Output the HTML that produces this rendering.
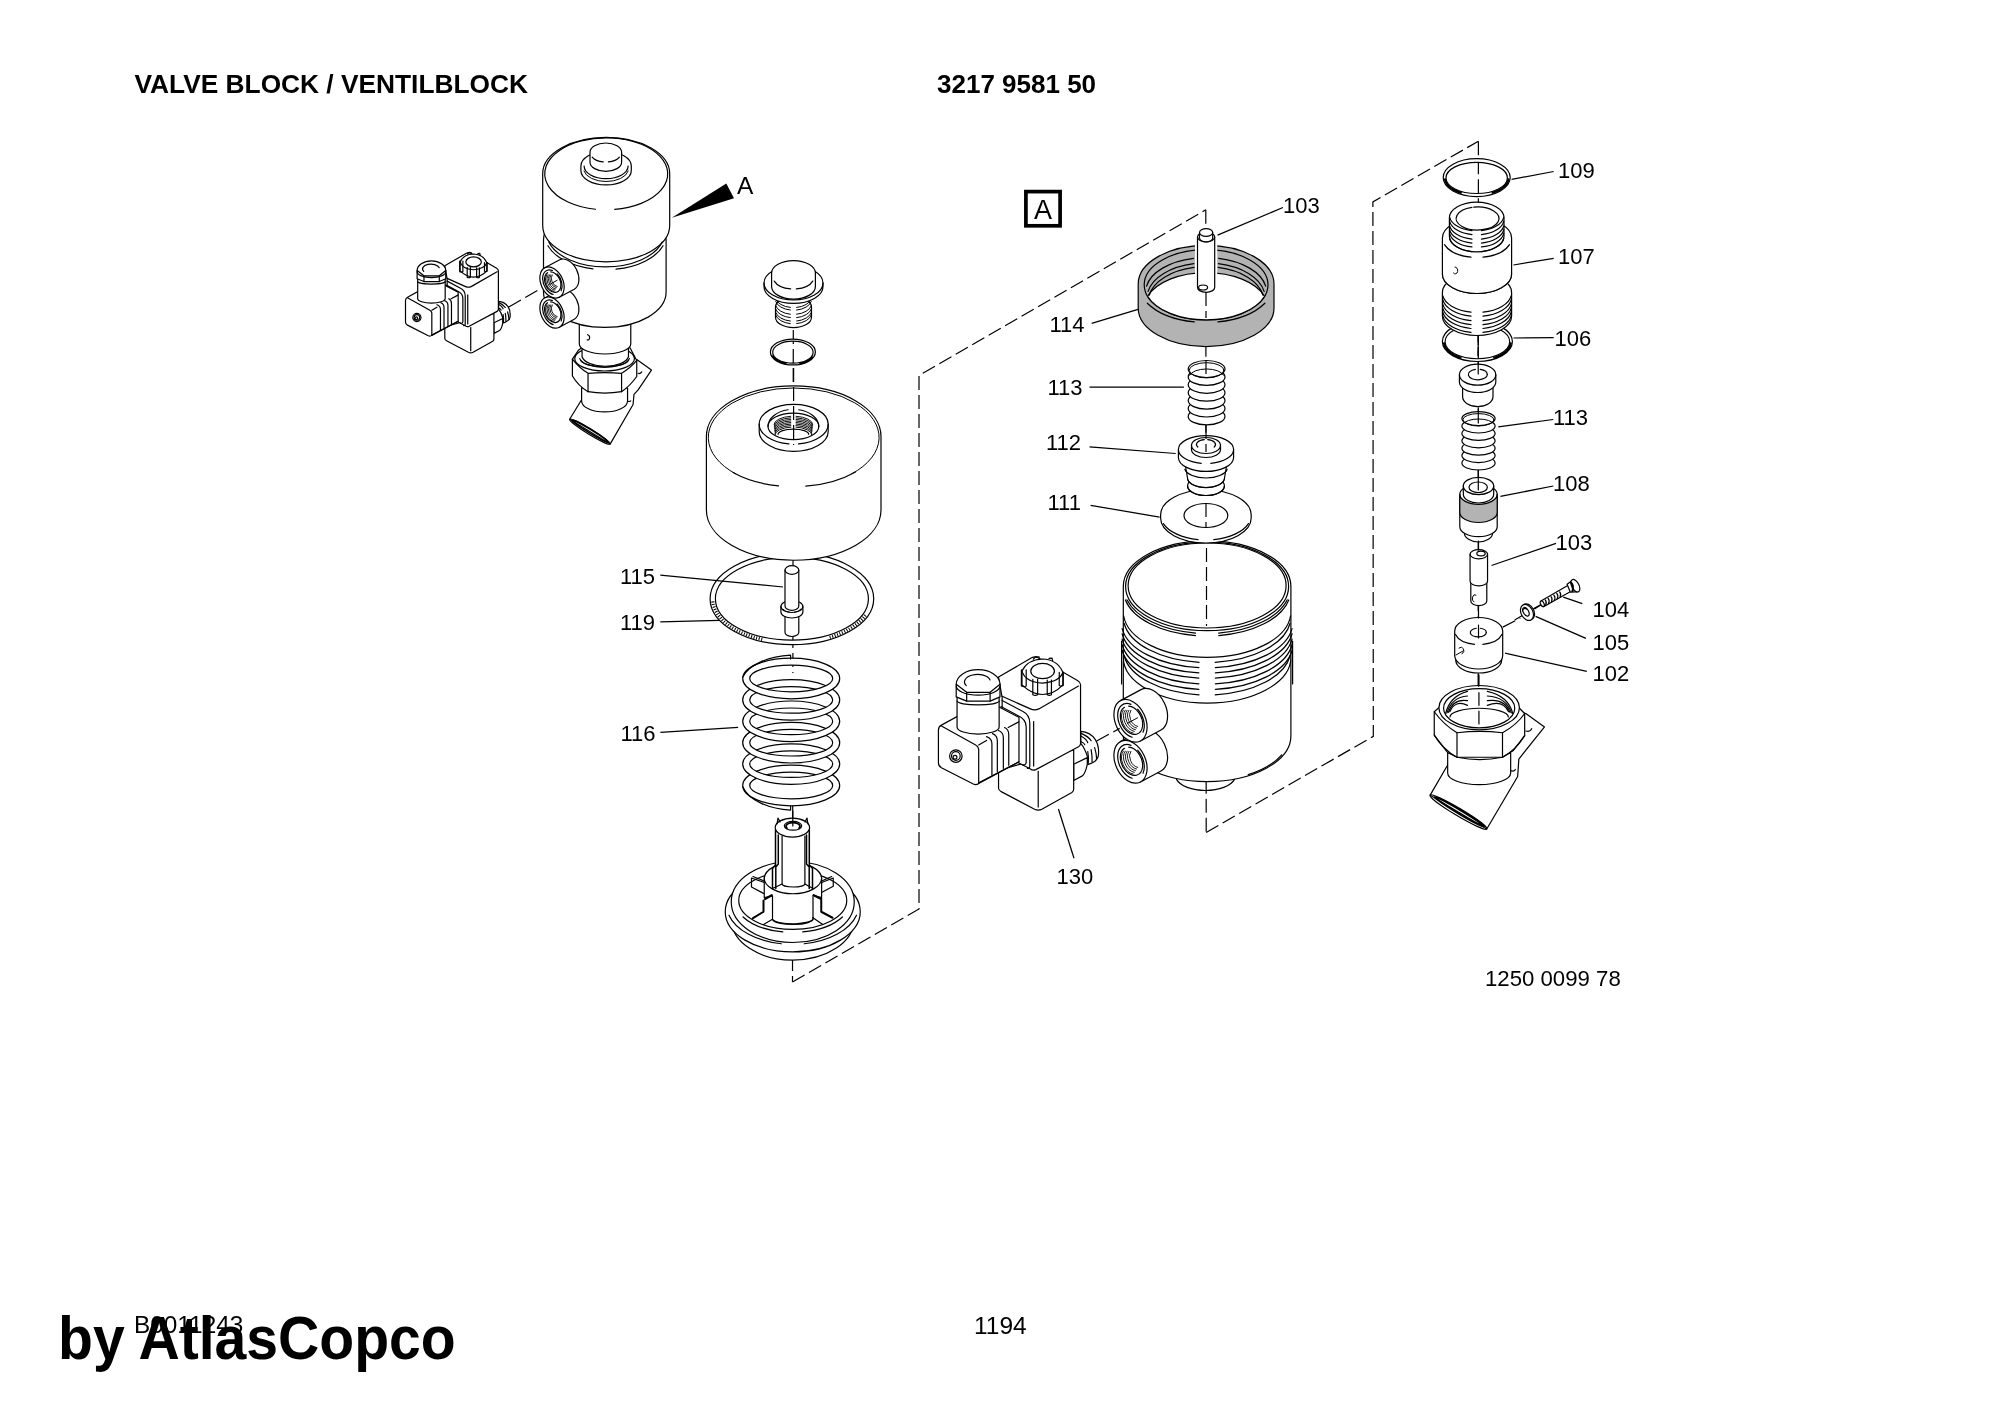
<!DOCTYPE html>
<html><head><meta charset="utf-8">
<style>
html,body{margin:0;padding:0;background:#fff;}
body{width:2000px;height:1414px;overflow:hidden;position:relative;}
svg{position:absolute;left:0;top:0;will-change:transform;}
text{font-family:"Liberation Sans",sans-serif;fill:#000;}
.b{font-weight:bold;}
.s{fill:none;stroke:#000;stroke-width:1.2;stroke-linejoin:round;stroke-linecap:round;}
.t{fill:none;stroke:#000;stroke-width:1.0;stroke-linecap:round;}
.w{fill:#fff;stroke:#000;stroke-width:1.2;stroke-linejoin:round;}
.wn{fill:#fff;stroke:none;}
.g{fill:#b3b3b3;stroke:#000;stroke-width:1.2;stroke-linejoin:round;}
.gn{fill:#b3b3b3;stroke:none;}
.d{fill:none;stroke:#000;stroke-width:1.2;stroke-dasharray:14 5;}
.l{fill:none;stroke:#000;stroke-width:1.25;}
.lab{font-size:22px;}
.ns{vector-effect:non-scaling-stroke;}
</style></head><body>
<svg width="2000" height="1414" viewBox="0 0 2000 1414">
<path class="d" d="M792.5 982 L919 909 L919 375.5 L1205.8 209.8"/>
<path class="d" d="M1206.2 832.4 L1373.3 736.3 L1372.9 201.9 L1478.4 141.2"/>
<path class="d" d="M793.3 330 L792.5 982"/>
<path class="d" d="M1205.8 209.8 L1206.2 832.4"/>
<path class="d" d="M1478.4 141.2 L1478.2 690"/>
<g transform="translate(930 650) scale(0.12024)">
<path class="w ns" d="M1195 950 L1308 895 L1308 953 Q1290 1030 1267 1047 L1195 1085 Z"/>
<path class="w ns" d="M1254 677 Q1330 680 1375 745 Q1410 800 1400 880 Q1390 930 1312 953 L1312 895 Q1290 820 1254 776 Z"/>
<path class="s ns" d="M1258 693 Q1320 720 1340 755 M1258 718 Q1300 740 1312 771 M1258 763 Q1285 775 1287 788"/>
<path class="s ns" d="M1312 845 Q1322 900 1316 940 M1340 829 Q1350 880 1348 932 M1369 812 Q1385 860 1386 907"/>
<path class="w ns" d="M570 1000 L570 1150 Q572 1168 592 1178 L870 1325 Q900 1340 930 1325 L1180 1185 Q1195 1175 1195 1155 L1195 830 Z"/>
<path class="s ns" d="M900 1010 L900 1305"/>
<path class="w ns" d="M600 395 L570 225 L845 65 Q870 52 895 62 L1230 255 Q1252 268 1252 290 L1252 780 Q1250 795 1235 805 L880 995 Q855 1005 835 990 L760 950 L600 870 Z"/>
<path class="s ns" d="M600 385 L835 490 Q870 505 905 490 L1235 300"/>
<path class="s ns" d="M862 595 L862 965"/>
<path class="s ns" d="M590 470 L730 545 Q800 575 800 640 L800 930 Q800 960 770 955"/>
<path class="s ns" d="M600 420 L770 510 Q830 540 830 610 L830 960 Q832 985 810 985"/>
<path class="w ns" d="M95 625 L470 420 L740 560 L740 930 L405 1110 Q385 1125 360 1115 L95 980 Q70 965 70 940 L70 665 Q72 635 95 625 Z"/>
<path class="s ns" d="M95 632 L380 790 Q400 800 405 825 L405 1108"/>
<path class="s ns" d="M405 790 L470 752 M650 645 L738 598"/>
<path class="s ns" d="M405 1105 L740 930"/>
<path class="s ns" d="M470 720 Q515 735 515 780 L515 1040"/>
<path class="s ns" d="M520 695 Q560 710 560 755 L560 1013"/>
<path class="s ns" d="M570 670 Q610 685 610 730 L610 986"/>
<path class="s ns" d="M620 645 Q655 660 655 705 L655 959"/>
<circle class="s ns" cx="215" cy="882" r="52"/>
<circle class="s ns" cx="215" cy="882" r="36"/>
<circle class="s ns" cx="208" cy="892" r="16"/>
<path class="w ns" d="M225 390 L225 640 A175 60 0 0 0 575 640 L575 390 Z"/>
<path class="s ns" d="M225 425 A175 32 0 0 0 575 425"/>
<path class="w ns" d="M218 285 L218 390 L305 425 L500 425 L582 390 L582 285 A182 122 0 0 0 218 285 Z"/>
<path class="s ns" d="M218 285 L305 352 L500 352 L582 285 M305 352 L305 425 M500 352 L500 425"/>
<path class="s ns" d="M218 300 A182 75 0 0 0 582 300"/>
<path class="s ns" d="M301.47 296 A108 62 0 1 1 499.32 248.95"/>
<path class="w ns" d="M765 175 L765 290 Q850 370 935 370 Q1030 370 1105 290 L1105 185 Q1060 80 935 75 Q810 80 765 175 Z"/>
<path class="s ns" d="M838 175 A97 62 0 0 1 1035 175 A97 62 0 0 1 838 175"/>
<path class="s ns" d="M765 175 Q790 265 935 275 Q1080 265 1105 185"/>
<path class="s ns" d="M760 165 L760 300 Q780 310 800 300 L800 165"/>
<path class="s ns" d="M855 245 L855 372 Q875 382 895 372 L895 245"/>
<path class="s ns" d="M975 250 L975 372 Q992 382 1010 372 L1010 250"/>
<path class="s ns" d="M1075 185 L1075 295 Q1091 305 1108 295 L1108 185"/>
<path class="s ns" d="M860 75 L880 55 L910 60 M990 70 L1015 68 L1020 90"/>
</g>
<g transform="translate(404.9 252.7) scale(0.6536) translate(-937.5 -657) translate(930 650) scale(0.12024)">
<path class="w ns" d="M1195 950 L1308 895 L1308 953 Q1290 1030 1267 1047 L1195 1085 Z"/>
<path class="w ns" d="M1254 677 Q1330 680 1375 745 Q1410 800 1400 880 Q1390 930 1312 953 L1312 895 Q1290 820 1254 776 Z"/>
<path class="s ns" d="M1258 693 Q1320 720 1340 755 M1258 718 Q1300 740 1312 771 M1258 763 Q1285 775 1287 788"/>
<path class="s ns" d="M1312 845 Q1322 900 1316 940 M1340 829 Q1350 880 1348 932 M1369 812 Q1385 860 1386 907"/>
<path class="w ns" d="M570 1000 L570 1150 Q572 1168 592 1178 L870 1325 Q900 1340 930 1325 L1180 1185 Q1195 1175 1195 1155 L1195 830 Z"/>
<path class="s ns" d="M900 1010 L900 1305"/>
<path class="w ns" d="M600 395 L570 225 L845 65 Q870 52 895 62 L1230 255 Q1252 268 1252 290 L1252 780 Q1250 795 1235 805 L880 995 Q855 1005 835 990 L760 950 L600 870 Z"/>
<path class="s ns" d="M600 385 L835 490 Q870 505 905 490 L1235 300"/>
<path class="s ns" d="M862 595 L862 965"/>
<path class="s ns" d="M590 470 L730 545 Q800 575 800 640 L800 930 Q800 960 770 955"/>
<path class="s ns" d="M600 420 L770 510 Q830 540 830 610 L830 960 Q832 985 810 985"/>
<path class="w ns" d="M95 625 L470 420 L740 560 L740 930 L405 1110 Q385 1125 360 1115 L95 980 Q70 965 70 940 L70 665 Q72 635 95 625 Z"/>
<path class="s ns" d="M95 632 L380 790 Q400 800 405 825 L405 1108"/>
<path class="s ns" d="M405 790 L470 752 M650 645 L738 598"/>
<path class="s ns" d="M405 1105 L740 930"/>
<path class="s ns" d="M470 720 Q515 735 515 780 L515 1040"/>
<path class="s ns" d="M520 695 Q560 710 560 755 L560 1013"/>
<path class="s ns" d="M570 670 Q610 685 610 730 L610 986"/>
<path class="s ns" d="M620 645 Q655 660 655 705 L655 959"/>
<circle class="s ns" cx="215" cy="882" r="52"/>
<circle class="s ns" cx="215" cy="882" r="36"/>
<circle class="s ns" cx="208" cy="892" r="16"/>
<path class="w ns" d="M225 390 L225 640 A175 60 0 0 0 575 640 L575 390 Z"/>
<path class="s ns" d="M225 425 A175 32 0 0 0 575 425"/>
<path class="w ns" d="M218 285 L218 390 L305 425 L500 425 L582 390 L582 285 A182 122 0 0 0 218 285 Z"/>
<path class="s ns" d="M218 285 L305 352 L500 352 L582 285 M305 352 L305 425 M500 352 L500 425"/>
<path class="s ns" d="M218 300 A182 75 0 0 0 582 300"/>
<path class="s ns" d="M301.47 296 A108 62 0 1 1 499.32 248.95"/>
<path class="w ns" d="M765 175 L765 290 Q850 370 935 370 Q1030 370 1105 290 L1105 185 Q1060 80 935 75 Q810 80 765 175 Z"/>
<path class="s ns" d="M838 175 A97 62 0 0 1 1035 175 A97 62 0 0 1 838 175"/>
<path class="s ns" d="M765 175 Q790 265 935 275 Q1080 265 1105 185"/>
<path class="s ns" d="M760 165 L760 300 Q780 310 800 300 L800 165"/>
<path class="s ns" d="M855 245 L855 372 Q875 382 895 372 L895 245"/>
<path class="s ns" d="M975 250 L975 372 Q992 382 1010 372 L1010 250"/>
<path class="s ns" d="M1075 185 L1075 295 Q1091 305 1108 295 L1108 185"/>
<path class="s ns" d="M860 75 L880 55 L910 60 M990 70 L1015 68 L1020 90"/>
</g>
<path class="w" d="M775.5 307 A18 10.4 0 0 1 811.5 307 L811.5 317.2 A18 10.4 0 0 1 775.5 317.2 Z"/>
<path class="t" d="M811.23 299.01 A18 10.4 0 0 1 796.63 307.44"/>
<path class="t" d="M790.37 307.44 A18 10.4 0 0 1 775.77 299.01"/>
<path class="t" d="M811.23 301.61 A18 10.4 0 0 1 796.63 310.04"/>
<path class="t" d="M790.37 310.04 A18 10.4 0 0 1 775.77 301.61"/>
<path class="t" d="M811.23 305.81 A18 10.4 0 0 1 796.63 314.24"/>
<path class="t" d="M790.37 314.24 A18 10.4 0 0 1 775.77 305.81"/>
<path class="t" d="M811.23 309.21 A18 10.4 0 0 1 796.63 317.64"/>
<path class="t" d="M790.37 317.64 A18 10.4 0 0 1 775.77 309.21"/>
<path class="t" d="M811.23 312.61 A18 10.4 0 0 1 796.63 321.04"/>
<path class="t" d="M790.37 321.04 A18 10.4 0 0 1 775.77 312.61"/>
<path class="t" d="M811.23 315.21 A18 10.4 0 0 1 796.63 323.64"/>
<path class="t" d="M790.37 323.64 A18 10.4 0 0 1 775.77 315.21"/>
<path class="w" d="M764 283 A29.5 17 0 0 1 823 283 L823 286.4 A29.5 17 0 0 1 764 286.4 Z"/>
<path class="s" d="M823 283 A29.5 17 0 0 1 764 283"/>
<path class="w" d="M771.6 273.3 A21.9 12.7 0 0 1 815.4 273.3 L815.4 286.4 A21.9 12.7 0 0 1 771.6 286.4 Z"/>
<path class="s" d="M812.76 281.1 A20.5 12 0 0 1 796.35 288.88"/>
<path class="s" d="M790.65 288.88 A20.5 12 0 0 1 774.24 281.1"/>
<path d="M815.4 352 A22.5 12.95 0 0 1 770.4 352 A22.5 12.95 0 0 1 815.4 352 Z M813.1 352.2 A20.2 11 0 0 1 772.7 352.2 A20.2 11 0 0 1 813.1 352.2 Z" fill="#fff" fill-rule="evenodd" stroke="#000" stroke-width="1.2"/>
<path class="s" d="M785.58 363.48 A21.4 12 0 0 1 772.79 356.3" style="stroke-width:2"/>
<path class="s" d="M812.29 357.27 A21.4 12 0 0 1 800.22 363.48" style="stroke-width:2"/>
<path d="M873.7 598.7 A81.8 46 0 0 1 710.1 598.7 A81.8 46 0 0 1 873.7 598.7 Z M868.4 598.7 A76.5 41.4 0 0 1 715.4 598.7 A76.5 41.4 0 0 1 868.4 598.7 Z" fill="#fff" fill-rule="evenodd" stroke="#000" stroke-width="1.2"/>
<path d="M762.23 639.42 A79.2 43.7 0 0 1 712.75 600.43" fill="none" stroke="#000" stroke-width="3.2" stroke-dasharray="1 1.6"/>
<path d="M865.33 615.27 A79.2 43.7 0 0 1 829.08 637.48" fill="none" stroke="#000" stroke-width="3.2" stroke-dasharray="1 1.6"/>
<path class="w" d="M706.4 436.3 A87.3 50.4 0 0 1 881 436.3 L881 509.9 A87.3 50.4 0 0 1 706.4 509.9 Z"/>
<path class="t" d="M735.39 473.7 A85.5 49.5 0 1 1 852.01 473.7"/>
<path class="s" d="M855.43 471.94 A87.3 50.4 0 0 1 805.85 486.21"/>
<path class="s" d="M778.54 485.93 A87.3 50.4 0 0 1 733.06 472.55"/>
<path class="w" d="M759.2 424.2 A34.5 19.9 0 0 1 828.2 424.2 L828.2 431.5 A34.5 19.9 0 0 1 759.2 431.5 Z"/>
<path class="s" d="M828.2 424.2 A34.5 19.9 0 0 1 798.5 443.91"/>
<path class="s" d="M788.9 443.91 A34.5 19.9 0 0 1 759.2 424.2"/>
<ellipse class="w" cx="793.4" cy="426.4" rx="25.4" ry="13.2"/>
<path class="s" d="M768 426.4 A25.4 17 0 0 1 788.12 409.77"/>
<path class="s" d="M798.68 409.77 A25.4 17 0 0 1 818.8 426.4"/>
<path class="s" style="stroke-width:0.95" d="M774 424.5 A19.4 8.3 0 0 1 790.7 416.28"/>
<path class="s" style="stroke-width:0.95" d="M796.1 416.28 A19.4 8.3 0 0 1 812.8 424.5"/>
<path class="s" style="stroke-width:0.95" d="M774.15 425.95 A19.25 8.2 0 0 1 790.72 417.83"/>
<path class="s" style="stroke-width:0.95" d="M796.08 417.83 A19.25 8.2 0 0 1 812.65 425.95"/>
<path class="s" style="stroke-width:0.95" d="M774.3 427.4 A19.1 8.1 0 0 1 790.74 419.38"/>
<path class="s" style="stroke-width:0.95" d="M796.06 419.38 A19.1 8.1 0 0 1 812.5 427.4"/>
<path class="s" style="stroke-width:0.95" d="M774.45 428.85 A18.95 8 0 0 1 790.76 420.93"/>
<path class="s" style="stroke-width:0.95" d="M796.04 420.93 A18.95 8 0 0 1 812.35 428.85"/>
<path class="s" style="stroke-width:0.95" d="M774.6 430.3 A18.8 7.9 0 0 1 790.78 422.48"/>
<path class="s" style="stroke-width:0.95" d="M796.02 422.48 A18.8 7.9 0 0 1 812.2 430.3"/>
<path class="s" style="stroke-width:0.95" d="M774.75 431.75 A18.65 7.8 0 0 1 790.8 424.03"/>
<path class="s" style="stroke-width:0.95" d="M796 424.03 A18.65 7.8 0 0 1 812.05 431.75"/>
<path class="s" style="stroke-width:0.95" d="M774.9 433.2 A18.5 7.7 0 0 1 790.83 425.57"/>
<path class="s" style="stroke-width:0.95" d="M795.97 425.57 A18.5 7.7 0 0 1 811.9 433.2"/>
<path class="s" style="stroke-width:0.95" d="M775.05 434.65 A18.35 7.6 0 0 1 790.85 427.12"/>
<path class="s" style="stroke-width:0.95" d="M795.95 427.12 A18.35 7.6 0 0 1 811.75 434.65"/>
<path class="s" d="M778.1 434.3 A15.3 5.2 0 0 1 808.7 434.3"/>
<path class="d" d="M793.6 368 L793.6 445"/>
<path class="w" d="M785 612 A6.9 4 0 0 1 798.8 612 L798.8 632.5 A6.9 4 0 0 1 785 632.5 Z"/>
<path class="w" d="M780.9 606.5 A11 6 0 0 1 802.9 606.5 L802.9 612 A11 6 0 0 1 780.9 612 Z"/>
<path class="s" d="M802.9 606.5 A11 6 0 0 1 780.9 606.5"/>
<path class="t" d="M800.83 609.21 A9.5 5 0 0 1 794.36 612.33"/>
<path class="t" d="M789.44 612.33 A9.5 5 0 0 1 782.97 609.21"/>
<path class="w" d="M785 570 A6.9 4.4 0 0 1 798.8 570 L798.8 606 A6.9 4.4 0 0 1 785 606 Z"/>
<path class="s" d="M798.8 570 A6.9 4.4 0 0 1 785 570"/>
<path class="wn" d="M746.2 690 A45 17 0 0 1 836.2 690 L836.2 785.9 A45 17 0 0 1 746.2 785.9 Z"/>
<path d="M839.7 785.5 A48.5 20.3 0 0 1 742.7 785.5 A48.5 20.3 0 0 1 839.7 785.5 Z M832.7 785.5 A41.5 13.3 0 0 1 749.7 785.5 A41.5 13.3 0 0 1 832.7 785.5 Z" fill="#fff" fill-rule="evenodd" stroke="#000" stroke-width="1.2"/>
<path d="M839.7 764.1 A48.5 20.3 0 0 1 742.7 764.1 A48.5 20.3 0 0 1 839.7 764.1 Z M832.7 764.1 A41.5 13.3 0 0 1 749.7 764.1 A41.5 13.3 0 0 1 832.7 764.1 Z" fill="#fff" fill-rule="evenodd" stroke="#000" stroke-width="1.2"/>
<path d="M839.7 742.7 A48.5 20.3 0 0 1 742.7 742.7 A48.5 20.3 0 0 1 839.7 742.7 Z M832.7 742.7 A41.5 13.3 0 0 1 749.7 742.7 A41.5 13.3 0 0 1 832.7 742.7 Z" fill="#fff" fill-rule="evenodd" stroke="#000" stroke-width="1.2"/>
<path d="M839.7 721.3 A48.5 20.3 0 0 1 742.7 721.3 A48.5 20.3 0 0 1 839.7 721.3 Z M832.7 721.3 A41.5 13.3 0 0 1 749.7 721.3 A41.5 13.3 0 0 1 832.7 721.3 Z" fill="#fff" fill-rule="evenodd" stroke="#000" stroke-width="1.2"/>
<path d="M839.7 699.9 A48.5 20.3 0 0 1 742.7 699.9 A48.5 20.3 0 0 1 839.7 699.9 Z M832.7 699.9 A41.5 13.3 0 0 1 749.7 699.9 A41.5 13.3 0 0 1 832.7 699.9 Z" fill="#fff" fill-rule="evenodd" stroke="#000" stroke-width="1.2"/>
<path d="M839.7 678.5 A48.5 20.3 0 0 1 742.7 678.5 A48.5 20.3 0 0 1 839.7 678.5 Z M832.7 678.5 A41.5 13.3 0 0 1 749.7 678.5 A41.5 13.3 0 0 1 832.7 678.5 Z" fill="#fff" fill-rule="evenodd" stroke="#000" stroke-width="1.2"/>
<path class="s" d="M742.9 677 C748 665 768 656.5 790.6 655.2 L790.6 659"/>
<path class="s" d="M742.9 787 C749 801 770 809 790.6 810.2 L790.6 806.2"/>
<g transform="translate(720 860) scale(0.075)">
<ellipse class="w ns" cx="970" cy="800" rx="815" ry="535"/>
<ellipse class="w ns" cx="970" cy="690" rx="900" ry="535"/>
<path class="s ns" d="M817.19 1117.02 A880 525 0 0 1 119.99 735.88"/>
<path class="s ns" d="M1820.01 735.88 A880 525 0 0 1 1122.81 1117.02"/>
<ellipse class="w ns" cx="970" cy="560" rx="820" ry="540"/>
<path class="s ns" d="M837.16 958.77 A765 410 0 0 1 307.49 760"/>
<path class="s ns" d="M1632.51 760 A765 410 0 0 1 1102.84 958.77"/>
<ellipse class="w ns" cx="970" cy="540" rx="720" ry="385"/>
<path class="s ns" d="M420 240 L590 300 M440 220 L590 280 M420 240 L420 360 L580 445"/>
<path class="s ns" d="M1510 240 L1355 300 M1490 220 L1355 280 M1510 240 L1510 350 L1360 430"/>
<path class="w ns" d="M590 240 A383 215 0 0 1 1355 240 L1355 500 L1240 470 L1240 780 A270 75 0 0 1 700 790 L700 480 L590 500 Z"/>
<path class="s ns" d="M1355 240 A383 210 0 0 1 589 240"/>
<path class="s ns" d="M700 790 A270 70 0 0 0 1240 770"/>
<path class="s ns" d="M600 520 L690 470" style="stroke-width:2.2"/>
<path class="s ns" d="M1250 470 L1350 520" style="stroke-width:2.2"/>
<path class="s ns" d="M580 540 L580 690 L440 775" style="stroke-width:2.0"/>
<path class="s ns" d="M1350 540 L1350 690 L1500 770" style="stroke-width:2.0"/>
<path class="s ns" d="M580 860 L700 790 M1370 860 L1240 770"/>
</g>
<path class="wn" d="M775.2 827.6 A17.2 9.5 0 0 1 809.6 827.6 L809.6 866 L813 869 L813 888.5 L772.5 888.5 L772.5 869 L775.2 866 Z"/>
<path class="s" d="M809.6 827.6 A17.2 9.5 0 0 1 775.2 827.6 A17.2 9.5 0 0 1 809.6 827.6"/>
<path class="s" d="M775.5 830 L775.5 865 L772.5 868.5 L772.5 888.5 M778.3 835 L778.3 864 L775.8 867 L775.8 888.5" style="stroke-width:1.5"/>
<path class="s" d="M809.3 830 L809.3 865 L812.5 868.5 L812.5 888.5 M806.5 835 L806.5 864 L809.2 867 L809.2 888.5" style="stroke-width:1.5"/>
<path class="s" d="M782.1 836 L782.1 884"/>
<path class="s" d="M804.9 836 L804.9 884"/>
<path class="s" d="M782.1 884 A11.4 3 0 0 0 804.9 884 M772.5 888.5 L782.1 884 M804.9 884 L813 888.5"/>
<ellipse class="s" cx="793" cy="825.8" rx="8.7" ry="4.4"/>
<path class="s" style="stroke-width:1.8" d="M786.94 828.1 A7 3.6 0 1 1 799.06 828.1"/>
<path class="s" d="M792.8 811 L792.8 826"/>
<path class="s" d="M777 824 L778 818 L780 822 M808 824 L807 818 L805 822"/>
<path class="w" d="M1123.3 662 A83.8 45.6 0 0 1 1290.9 662 L1290.9 736 A83.8 45.6 0 0 1 1123.3 736 Z"/>
<path class="s" d="M1234.48 779.38 A30 15 0 0 1 1176.52 779.38"/>
<path class="s" d="M1281.69 754.85 A82.3 44.6 0 0 1 1248.25 774.62"/>
<path class="s" d="M1121.6 641 L1121.6 684 M1292.6 641 L1292.6 684"/>
<path class="w" d="M1123.3 586.4 A83.8 45.6 0 0 1 1290.9 586.4 L1290.9 657.5 A83.8 45.6 0 0 1 1123.3 657.5 Z"/>
<path class="s" d="M1290.08 623.25 A83.8 45.6 0 0 1 1215.13 662.29"/>
<path class="s" d="M1199.07 662.29 A83.8 45.6 0 0 1 1124.12 623.25"/>
<path class="s" d="M1292.07 628.55 A85.8 45.6 0 0 1 1215.32 667.59"/>
<path class="s" d="M1198.88 667.59 A85.8 45.6 0 0 1 1122.13 628.55"/>
<path class="s" d="M1292.07 633.75 A85.8 45.6 0 0 1 1215.32 672.79"/>
<path class="s" d="M1198.88 672.79 A85.8 45.6 0 0 1 1122.13 633.75"/>
<path class="s" d="M1292.07 639.05 A85.8 45.6 0 0 1 1215.32 678.09"/>
<path class="s" d="M1198.88 678.09 A85.8 45.6 0 0 1 1122.13 639.05"/>
<path class="s" d="M1292.07 644.75 A85.8 45.6 0 0 1 1215.32 683.79"/>
<path class="s" d="M1198.88 683.79 A85.8 45.6 0 0 1 1122.13 644.75"/>
<path class="s" d="M1292.07 650.25 A85.8 45.6 0 0 1 1215.32 689.29"/>
<path class="s" d="M1198.88 689.29 A85.8 45.6 0 0 1 1122.13 650.25"/>
<path class="s" d="M1290.08 655.75 A83.8 45.6 0 0 1 1215.13 694.79"/>
<path class="s" d="M1199.07 694.79 A83.8 45.6 0 0 1 1124.12 655.75"/>
<path class="s" d="M1290.58 615.77 A83.8 45.6 0 0 1 1123.62 615.77"/>
<ellipse class="s" cx="1207.1" cy="585.5" rx="79" ry="42.5"/>
<ellipse class="s" cx="1207.1" cy="586.4" rx="81.5" ry="44.2"/>
<path class="s" d="M1287.27 599.78 A83 45.5 0 0 1 1218.65 633.06"/>
<path class="s" d="M1195.55 633.06 A83 45.5 0 0 1 1126.93 599.78"/>
<path class="s" d="M1288.78 599.96 A83.5 45.5 0 0 1 1218.72 635.56"/>
<path class="s" d="M1195.48 635.56 A83.5 45.5 0 0 1 1125.42 599.96"/>
<path class="d" d="M1206.5 548 L1206.5 626"/>
<path class="w" d="M1140.48 781.96 L1160.98 770.96 A22.5 15 65 0 0 1141.02 730.64 L1120.52 741.64 Z"/>
<ellipse class="w" cx="1130.5" cy="761.8" rx="22.5" ry="15" transform="rotate(65 1130.5 761.8)"/>
<path class="s" d="M1132.15 778.26 A18 12 65 1 1 1131.01 745.33"/>
<path class="s" d="M1137.64 750.11 A18 12 65 0 1 1143.03 773.19"/>
<path class="s" d="M1128.76 747.18 A14.85 10.2 65 1 1 1124.44 748.27"/>
<path class="t" style="stroke-width:0.9" d="M1133.22 774 A13.5 9 65 0 1 1123.35 751.1"/>
<path class="t" style="stroke-width:0.9" d="M1134.34 772.34 A12.49 8.32 65 0 1 1125.21 751.17"/>
<path class="t" style="stroke-width:0.9" d="M1135.47 770.69 A11.47 7.65 65 0 1 1127.07 751.23"/>
<path class="t" style="stroke-width:0.9" d="M1136.59 769.04 A10.46 6.97 65 0 1 1128.93 751.3"/>
<path class="t" style="stroke-width:0.9" d="M1137.71 767.39 A9.45 6.3 65 0 1 1130.79 751.36"/>
<path class="w" d="M1140.48 740.96 L1160.98 729.96 A22.5 15 65 0 0 1141.02 689.64 L1120.52 700.64 Z"/>
<ellipse class="w" cx="1130.5" cy="720.8" rx="22.5" ry="15" transform="rotate(65 1130.5 720.8)"/>
<path class="s" d="M1132.15 737.26 A18 12 65 1 1 1131.01 704.33"/>
<path class="s" d="M1137.64 709.11 A18 12 65 0 1 1143.03 732.19"/>
<path class="s" d="M1128.76 706.18 A14.85 10.2 65 1 1 1124.44 707.27"/>
<path class="t" style="stroke-width:0.9" d="M1133.22 733 A13.5 9 65 0 1 1123.35 710.1"/>
<path class="t" style="stroke-width:0.9" d="M1134.34 731.34 A12.49 8.32 65 0 1 1125.21 710.17"/>
<path class="t" style="stroke-width:0.9" d="M1135.47 729.69 A11.47 7.65 65 0 1 1127.07 710.23"/>
<path class="t" style="stroke-width:0.9" d="M1136.59 728.04 A10.46 6.97 65 0 1 1128.93 710.3"/>
<path class="t" style="stroke-width:0.9" d="M1137.71 726.39 A9.45 6.3 65 0 1 1130.79 710.36"/>
<path class="t" d="M1127.5 723.3 L1137.5 717.8"/>
<path class="g" d="M1138.2 283.9 A67.9 38.6 0 0 1 1274 283.9 L1274 308 A67.9 38.6 0 0 1 1138.2 308 Z"/>
<ellipse class="g" cx="1206.1" cy="284.8" rx="61.9" ry="35.2"/>
<path class="w" d="M1147.6 296.25 A61.9 35.2 0 0 1 1264.6 296.25 A61.9 35.2 0 0 1 1147.6 296.25 Z"/>
<path class="s" d="M1264.9 303.2 A67.9 38.6 0 0 1 1217.89 321.91"/>
<path class="s" d="M1194.31 321.91 A67.9 38.6 0 0 1 1147.3 303.2"/>
<path class="s" d="M1146.52 286.11 A60.5 34.5 0 0 1 1193.52 258.35"/>
<path class="s" d="M1218.68 258.35 A60.5 34.5 0 0 1 1265.68 286.11"/>
<path class="s" d="M1148.08 291.41 A58.91 34.5 0 0 1 1193.85 263.65"/>
<path class="s" d="M1218.35 263.65 A58.91 34.5 0 0 1 1264.12 291.41"/>
<path class="s" d="M1149.21 295.21 A57.77 34.5 0 0 1 1194.09 267.45"/>
<path class="s" d="M1218.11 267.45 A57.77 34.5 0 0 1 1262.99 295.21"/>
<path d="M1197.5 237 L1197.5 287.5 M1214.7 237 L1214.7 287.5" stroke="#fff" stroke-width="5"/>
<path class="w" d="M1197.5 237 A8.6 4.8 0 0 1 1214.7 237 L1214.7 287.5 A8.6 4.8 0 0 1 1197.5 287.5 Z"/>
<path class="s" d="M1214.7 237 A8.6 4.8 0 0 1 1197.5 237"/>
<path class="w" d="M1199.5 232.5 A6.6 3.8 0 0 1 1212.7 232.5 L1212.7 238 A6.6 3.8 0 0 1 1199.5 238 Z"/>
<path class="s" d="M1212.7 232.5 A6.6 3.8 0 0 1 1199.5 232.5"/>
<ellipse class="s" cx="1203.1" cy="287.5" rx="4.5" ry="2.5"/>
<path class="d" d="M1206 292 L1206 318"/>
<ellipse class="w" cx="1206.6" cy="416.4" rx="18.4" ry="8.5"/>
<ellipse class="w" cx="1206.6" cy="408.5" rx="18.4" ry="8.5"/>
<ellipse class="w" cx="1206.6" cy="400.6" rx="18.4" ry="8.5"/>
<ellipse class="w" cx="1206.6" cy="392.7" rx="18.4" ry="8.5"/>
<ellipse class="w" cx="1206.6" cy="384.8" rx="18.4" ry="8.5"/>
<ellipse class="w" cx="1206.6" cy="376.9" rx="18.4" ry="8.5"/>
<ellipse class="w" cx="1206.6" cy="369" rx="18.4" ry="8.5"/>
<ellipse class="t" cx="1206.6" cy="370.3" rx="17.4" ry="7.6"/>
<path class="t" d="M1189.66 375.2 A17.2 7.5 0 0 1 1223.54 375.2"/>
<path class="d" d="M1206 360 L1206 378"/>
<path class="w" d="M1160.6 515 A45.3 25 0 0 1 1251.2 515 L1251.2 518 A45.3 25 0 0 1 1160.6 518 Z"/>
<path class="s" d="M1248.47 523.55 A45.3 25 0 0 1 1213.77 539.62"/>
<path class="s" d="M1198.03 539.62 A45.3 25 0 0 1 1163.33 523.55"/>
<ellipse class="w" cx="1205.9" cy="515.5" rx="21.9" ry="12"/>
<path class="w" d="M1187.6 485.8 A18.4 9.5 0 0 1 1224.4 485.8 L1224.4 486 A18.4 9.5 0 0 1 1187.6 486 Z"/>
<path class="s" d="M1224.4 486 A18.4 9.5 0 0 1 1187.6 486"/>
<path class="w" d="M1184 457.5 L1187.5 478 A18.4 9.5 0 0 0 1224.5 478 L1228 457.5 Z"/>
<path class="s" d="M1227.17 469.32 A21.5 10.5 0 0 1 1184.83 469.32"/>
<path class="s" d="M1224.22 479.65 A18.5 9.5 0 0 1 1187.78 479.65"/>
<path class="w" d="M1178.4 449.5 A27.6 14 0 0 1 1233.6 449.5 L1233.6 457.5 A27.6 14 0 0 1 1178.4 457.5 Z"/>
<path class="s" d="M1233.6 449.5 A27.6 14 0 0 1 1210.79 463.29"/>
<path class="s" d="M1201.21 463.29 A27.6 14 0 0 1 1178.4 449.5"/>
<path class="w" d="M1191.5 445.5 A14.5 8 0 0 1 1220.5 445.5 L1220.5 449.5 A14.5 8 0 0 1 1191.5 449.5 Z"/>
<path class="s" d="M1220.5 445.5 A14.5 8 0 0 1 1191.5 445.5"/>
<path class="s" d="M1197.77 447 A9.5 5 0 0 1 1204.35 439.58"/>
<path class="s" d="M1207.65 439.58 A9.5 5 0 0 1 1214.23 447"/>
<path class="d" d="M1206 425 L1206 452"/>
<path class="d" d="M1206 503 L1206 527"/>
<g transform="translate(560 320) scale(0.091912)">
<path class="w ns" d="M240 860 L105 1080 L545 1350 L795 920 L805 810 L850 760 L995 545 L835 430 L240 430 Z"/>
<ellipse class="s ns" cx="325" cy="1215" rx="258" ry="30" transform="rotate(31.5 325 1215)"/>
<ellipse class="s ns" cx="330" cy="1212" rx="230" ry="19" transform="rotate(31.5 330 1212)" style="stroke-width:1.6"/>
<path class="s ns" d="M850 580 Q870 590 890 565 M745 885 Q760 890 770 880"/>
<path class="w ns" d="M235 740 L235 880 A250 120 0 0 0 735 880 L735 740 Z"/>
<path class="w ns" d="M135 425 L200 330 L245 295 L760 300 L835 440 L835 615 Q760 720 670 780 Q485 810 305 780 Q200 720 135 610 Z"/>
<path class="s ns" d="M135 425 Q210 520 305 580 Q485 565 670 580 Q770 520 835 440 M305 580 L305 780 M670 580 L670 780"/>
<ellipse class="w ns" cx="485" cy="420" rx="325" ry="135"/>
<path class="s ns" d="M225 440 A265 90 0 0 0 745 440"/>
<path class="s ns" d="M215 420 A272 105 0 0 0 755 420"/>
<path class="w ns" d="M240 260 L240 400 A255 120 0 0 0 745 400 L745 260 Z"/>
<path class="w ns" d="M210 40 L210 260 A280 110 0 0 0 770 260 L770 40 Z"/>
<path class="s ns" d="M300 160 Q330 170 320 205 Q310 225 295 215"/>
</g>
<path class="w" d="M543.5 240 A61.3 35.4 0 0 1 666.1 240 L666.1 292.1 A61.3 35.4 0 0 1 543.5 292.1 Z"/>
<path class="w" d="M542.7 173.6 A63.5 36.2 0 0 1 669.7 173.6 L669.7 225.6 A63.5 36.2 0 0 1 542.7 225.6 Z"/>
<path class="s" d="M559.09 150.66 A61.5 36 0 1 1 614.76 209.45"/>
<path class="s" d="M595.52 209.25 A61.5 36 0 0 1 559.09 150.66"/>
<path class="s" d="M662.21 241.98 A59 34.4 0 0 1 548.79 241.98"/>
<path class="s" d="M663.04 245.72 A60.5 34.7 0 0 1 616.01 269.17"/>
<path class="s" d="M592.92 268.94 A60.5 34.7 0 0 1 547.96 245.72"/>
<path class="w" d="M580.9 166 A25.2 14.5 0 0 1 631.3 166 L631.3 170.4 A25.2 14.5 0 0 1 580.9 170.4 Z"/>
<path class="s" d="M628.1 166 A22 12.7 0 0 1 584.1 166"/>
<path class="t" d="M628.26 171.01 A22.5 12.7 0 0 1 583.94 171.01"/>
<path class="w" d="M590 152.1 A15.8 9.1 0 0 1 621.6 152.1 L621.6 162.2 A15.8 9.1 0 0 1 590 162.2 Z"/>
<path class="s" d="M619.39 157.13 A15 8.6 0 0 1 608.4 161.97"/>
<path class="s" d="M603.2 161.97 A15 8.6 0 0 1 592.21 157.13"/>
<path class="w" d="M559.27 327.29 L574.27 319.29 A16.4 11 65 0 0 559.73 289.91 L544.73 297.91 Z"/>
<ellipse class="w" cx="552" cy="312.6" rx="16.4" ry="11" transform="rotate(65 552 312.6)"/>
<path class="s" d="M553.18 324.61 A13.12 8.8 65 1 1 552.4 300.58"/>
<path class="s" d="M557.25 304.06 A13.12 8.8 65 0 1 561.15 320.89"/>
<path class="s" d="M550.75 301.94 A10.82 7.48 65 1 1 547.58 302.74"/>
<path class="t" style="stroke-width:0.9" d="M553.97 321.5 A9.84 6.6 65 0 1 546.78 304.81"/>
<path class="t" style="stroke-width:0.9" d="M554.79 320.29 A9.1 6.1 65 0 1 548.14 304.85"/>
<path class="t" style="stroke-width:0.9" d="M555.61 319.09 A8.36 5.61 65 0 1 549.49 304.9"/>
<path class="t" style="stroke-width:0.9" d="M556.43 317.88 A7.63 5.11 65 0 1 550.85 304.95"/>
<path class="t" style="stroke-width:0.9" d="M557.25 316.67 A6.89 4.62 65 0 1 552.21 304.99"/>
<path class="w" d="M559.27 297.19 L574.27 289.19 A16.4 11 65 0 0 559.73 259.81 L544.73 267.81 Z"/>
<ellipse class="w" cx="552" cy="282.5" rx="16.4" ry="11" transform="rotate(65 552 282.5)"/>
<path class="s" d="M553.18 294.51 A13.12 8.8 65 1 1 552.4 270.48"/>
<path class="s" d="M557.25 273.96 A13.12 8.8 65 0 1 561.15 290.79"/>
<path class="s" d="M550.75 271.84 A10.82 7.48 65 1 1 547.58 272.64"/>
<path class="t" style="stroke-width:0.9" d="M553.97 291.4 A9.84 6.6 65 0 1 546.78 274.71"/>
<path class="t" style="stroke-width:0.9" d="M554.79 290.19 A9.1 6.1 65 0 1 548.14 274.75"/>
<path class="t" style="stroke-width:0.9" d="M555.61 288.99 A8.36 5.61 65 0 1 549.49 274.8"/>
<path class="t" style="stroke-width:0.9" d="M556.43 287.78 A7.63 5.11 65 0 1 550.85 274.85"/>
<path class="t" style="stroke-width:0.9" d="M557.25 286.57 A6.89 4.62 65 0 1 552.21 274.89"/>
<path class="t" d="M549.81 284.32 L557.11 280.31"/>
<path class="d" d="M508.8 307 L540.3 288.8"/>
<g transform="translate(1415 675) scale(0.116667)">
<path class="w ns" d="M275 780 L130 1030 L615 1320 L880 870 L890 720 L1110 445 L950 330 L560 250 Z"/>
<ellipse class="s ns" cx="372" cy="1175" rx="283" ry="32" transform="rotate(30.9 372 1175)"/>
<ellipse class="s ns" cx="380" cy="1172" rx="245" ry="16" transform="rotate(30.9 380 1172)" style="stroke-width:2"/>
<path class="w ns" d="M280 670 L280 840 A270 100 0 0 0 820 840 L820 670 Z"/>
<path class="w ns" d="M165 315 L250 240 L850 240 L940 330 L940 520 L840 650 L750 705 L360 705 L280 665 L165 515 Z"/>
<path class="s ns" d="M165 315 Q250 430 360 495 Q555 470 750 495 Q870 430 940 330"/>
<path class="s ns" d="M360 495 L360 705 M750 495 L750 705 M165 515 Q240 640 360 705 Q555 745 750 705 Q860 650 940 520"/>
<ellipse class="w ns" cx="550" cy="280" rx="345" ry="190"/>
<ellipse class="s ns" cx="550" cy="285" rx="305" ry="168"/>
<path class="s ns" d="M300 360 A250 75 0 0 1 800 360"/>
<path class="s ns" d="M262 330 Q300 180 450 140"/>
<path class="s ns" d="M838 330 Q800 180 620 140"/>
<path class="s ns" d="M274 325 Q315 190 450 180"/>
<path class="s ns" d="M826 325 Q785 190 620 180"/>
<path class="s ns" d="M286 320 Q330 200 450 220"/>
<path class="s ns" d="M814 320 Q770 200 620 220"/>
<path class="s ns" d="M298 315 Q345 210 450 260"/>
<path class="s ns" d="M802 315 Q755 210 620 260"/>
<path class="s ns" d="M548 0 L548 95 M548 150 L548 260 M548 310 L548 420"/>
<path class="s ns" d="M950 480 Q990 490 1000 460 M820 820 Q850 830 860 810"/>
</g>
<path d="M1510.2 177.6 A33.5 19 0 0 1 1443.2 177.6 A33.5 19 0 0 1 1510.2 177.6 Z M1507.4 177.9 A30.7 15.6 0 0 1 1446 177.9 A30.7 15.6 0 0 1 1507.4 177.9 Z" fill="#fff" fill-rule="evenodd" stroke="#000" stroke-width="1.2"/>
<path class="s" d="M1460.8 192.8 A31.8 17.2 0 0 1 1445.02 179.4" style="stroke-width:2.2"/>
<path class="s" d="M1508.38 179.4 A31.8 17.2 0 0 1 1492.6 192.8" style="stroke-width:2.2"/>
<path d="M1512.4 341.5 A35 20 0 0 1 1442.4 341.5 A35 20 0 0 1 1512.4 341.5 Z M1509.7 341.8 A32.3 17 0 0 1 1445.1 341.8 A32.3 17 0 0 1 1509.7 341.8 Z" fill="#fff" fill-rule="evenodd" stroke="#000" stroke-width="1.2"/>
<path class="s" d="M1460.65 357.73 A33.5 18.4 0 0 1 1444.03 343.4" style="stroke-width:2.2"/>
<path class="s" d="M1510.77 343.4 A33.5 18.4 0 0 1 1494.15 357.73" style="stroke-width:2.2"/>
<path class="d" d="M1478.2 328 L1478.2 356"/>
<path class="w" d="M1442.4 292.5 A34.6 19.5 0 0 1 1511.6 292.5 L1511.6 316 A34.6 19.5 0 0 1 1442.4 316 Z"/>
<path class="s" d="M1511.26 295.71 A34.6 19.5 0 0 1 1483.01 312.2"/>
<path class="s" d="M1470.99 312.2 A34.6 19.5 0 0 1 1442.74 295.71"/>
<path class="s" d="M1511.26 299.61 A34.6 19.5 0 0 1 1483.01 316.1"/>
<path class="s" d="M1470.99 316.1 A34.6 19.5 0 0 1 1442.74 299.61"/>
<path class="s" d="M1511.26 304.21 A34.6 19.5 0 0 1 1483.01 320.7"/>
<path class="s" d="M1470.99 320.7 A34.6 19.5 0 0 1 1442.74 304.21"/>
<path class="s" d="M1511.26 308.21 A34.6 19.5 0 0 1 1483.01 324.7"/>
<path class="s" d="M1470.99 324.7 A34.6 19.5 0 0 1 1442.74 308.21"/>
<path class="s" d="M1511.26 312.01 A34.6 19.5 0 0 1 1483.01 328.5"/>
<path class="s" d="M1470.99 328.5 A34.6 19.5 0 0 1 1442.74 312.01"/>
<path class="s" d="M1511.26 315.91 A34.6 19.5 0 0 1 1483.01 332.4"/>
<path class="s" d="M1470.99 332.4 A34.6 19.5 0 0 1 1442.74 315.91"/>
<path class="s" d="M1511.6 274 A34.6 19.5 0 0 1 1442.4 274"/>
<path class="w" d="M1442.4 238 A34.6 19.5 0 0 1 1511.6 238 L1511.6 274 A34.6 19.5 0 0 1 1442.4 274 Z"/>
<path class="s" d="M1509.51 244.67 A34.6 19.5 0 0 1 1483.01 257.2"/>
<path class="s" d="M1470.99 257.2 A34.6 19.5 0 0 1 1444.49 244.67"/>
<path class="w" d="M1449.4 217.8 A27.3 15.7 0 0 1 1504 217.8 L1504 236.2 A27.3 15.7 0 0 1 1449.4 236.2 Z"/>
<path class="s" d="M1503.73 217.39 A27.3 15.7 0 0 1 1481.44 230.66"/>
<path class="s" d="M1471.96 230.66 A27.3 15.7 0 0 1 1449.67 217.39"/>
<path class="s" d="M1503.73 221.29 A27.3 15.7 0 0 1 1481.44 234.56"/>
<path class="s" d="M1471.96 234.56 A27.3 15.7 0 0 1 1449.67 221.29"/>
<path class="s" d="M1503.73 225.89 A27.3 15.7 0 0 1 1481.44 239.16"/>
<path class="s" d="M1471.96 239.16 A27.3 15.7 0 0 1 1449.67 225.89"/>
<path class="s" d="M1503.73 229.79 A27.3 15.7 0 0 1 1481.44 243.06"/>
<path class="s" d="M1471.96 243.06 A27.3 15.7 0 0 1 1449.67 229.79"/>
<path class="s" d="M1503.73 233.69 A27.3 15.7 0 0 1 1481.44 246.96"/>
<path class="s" d="M1471.96 246.96 A27.3 15.7 0 0 1 1449.67 233.69"/>
<path class="s" d="M1503.73 238.39 A27.3 15.7 0 0 1 1481.44 251.66"/>
<path class="s" d="M1471.96 251.66 A27.3 15.7 0 0 1 1449.67 238.39"/>
<path class="s" d="M1473.78 207.17 A21.4 11.5 0 1 1 1471.96 207.39"/>
<path class="t" d="M1455 267 A2.5 3.5 0 1 1 1453.5 273"/>
<path class="s" d="M1478.2 336 L1478.2 356"/>
<path class="w" d="M1462.6 385 A15.2 10 0 0 1 1493 385 L1493 396.6 A15.2 10 0 0 1 1462.6 396.6 Z"/>
<path class="w" d="M1459.4 374.7 A18.2 10.5 0 0 1 1495.8 374.7 L1495.8 382 A18.2 10.5 0 0 1 1459.4 382 Z"/>
<path class="s" d="M1495.8 374.7 A18.2 10.5 0 0 1 1459.4 374.7"/>
<path class="s" d="M1487.3 374.5 A9.5 5.3 0 1 1 1475.34 369.38"/>
<path class="s" d="M1480.26 369.38 A9.5 5.3 0 0 1 1487.3 374.5"/>
<path class="s" d="M1478.2 362 L1478.2 374"/>
<ellipse class="w" cx="1478.5" cy="463" rx="16.6" ry="7"/>
<ellipse class="w" cx="1478.5" cy="455.6" rx="16.6" ry="7"/>
<ellipse class="w" cx="1478.5" cy="448.2" rx="16.6" ry="7"/>
<ellipse class="w" cx="1478.5" cy="440.8" rx="16.6" ry="7"/>
<ellipse class="w" cx="1478.5" cy="433.4" rx="16.6" ry="7"/>
<ellipse class="w" cx="1478.5" cy="426" rx="16.6" ry="7"/>
<ellipse class="w" cx="1478.5" cy="418.6" rx="16.6" ry="7"/>
<ellipse class="t" cx="1478.5" cy="419.8" rx="15.6" ry="6.2"/>
<path class="t" d="M1463.24 423.96 A15.5 6 0 0 1 1493.76 423.96"/>
<path class="s" d="M1478.3 409 L1478.3 423"/>
<path class="w" d="M1464.4 526.7 A14.1 9 0 0 1 1492.6 526.7 L1492.6 533 A14.1 9 0 0 1 1464.4 533 Z"/>
<path class="w" d="M1459.8 494.3 A18.7 10 0 0 1 1497.2 494.3 L1497.2 526.7 A18.7 10 0 0 1 1459.8 526.7 Z"/>
<path class="g" d="M1459.8 494.3 A18.7 10 0 0 0 1497.2 494.3 L1497.2 512.5 A18.7 10 0 0 1 1459.8 512.5 Z"/>
<path class="w" d="M1463.3 486 A15.2 8.7 0 0 1 1493.7 486 L1493.7 494.3 A15.2 8.7 0 0 1 1463.3 494.3 Z"/>
<path class="s" d="M1493.7 486 A15.2 8.7 0 0 1 1463.3 486"/>
<ellipse class="s" cx="1478.2" cy="487.3" rx="9.2" ry="5.3"/>
<path class="s" d="M1478.3 470 L1478.3 490"/>
<path class="w" d="M1470.8 581.3 A8 4.6 0 0 1 1486.8 581.3 L1486.8 601 A8 4.6 0 0 1 1470.8 601 Z"/>
<path class="w" d="M1470.05 554.2 A8.75 4.6 0 0 1 1487.55 554.2 L1487.55 581.3 A8.75 4.6 0 0 1 1470.05 581.3 Z"/>
<path class="s" d="M1487.55 554.2 A8.75 4.6 0 0 1 1470.05 554.2"/>
<ellipse class="s" cx="1481" cy="553.5" rx="4.2" ry="2.4"/>
<path class="t" d="M1476 595 A2.5 3.5 0 1 0 1474 602"/>
<path class="s" d="M1478.5 541 L1478.5 550"/>
<path class="w" d="M1455.7 655.5 A23 13 0 0 1 1501.7 655.5 L1501.7 660 A23 13 0 0 1 1455.7 660 Z"/>
<path class="w" d="M1454.7 631 A24 13.5 0 0 1 1502.7 631 L1502.7 655.5 A24 13.5 0 0 1 1454.7 655.5 Z"/>
<path class="s" d="M1501.88 634.49 A24 13.5 0 0 1 1482.87 644.29"/>
<path class="s" d="M1474.53 644.29 A24 13.5 0 0 1 1455.52 634.49"/>
<path class="s" d="M1486.3 632.5 A8 4.4 0 1 1 1476.23 628.25"/>
<path class="s" d="M1480.37 628.25 A8 4.4 0 0 1 1486.3 632.5"/>
<path class="s" d="M1478.5 625 L1478.5 638"/>
<path class="t" d="M1459 648 A2.5 3 30 1 1 1462 654 M1456 655 L1463 651"/>
<path class="s" d="M1478.5 606 L1478.5 618"/>
<path class="s" d="M1478.5 674 L1478.5 686"/>
<path class="d" d="M1502.8 627.1 L1520.3 618.1 M1534.5 609 L1540.7 605"/>
<g transform="translate(1510 570) scale(0.042440)">
<path class="s ns" d="M120 1170 L280 1080 M560 910 L710 825"/>
<ellipse class="w ns" cx="425" cy="985" rx="200" ry="138" transform="rotate(62 425 985)"/>
<ellipse class="w ns" cx="400" cy="1000" rx="200" ry="138" transform="rotate(62 400 1000)"/>
<ellipse class="s ns" cx="375" cy="985" rx="110" ry="62" transform="rotate(62 375 985)"/>
<path class="s ns" d="M300 950 Q330 880 390 920"/>
<path class="w ns" d="M730 730 L1360 365 L1460 490 L790 865 Z"/>
<ellipse class="w ns" cx="760" cy="797" rx="72" ry="40" transform="rotate(62 760 797)"/>
<path class="s ns" d="M830 705 Q875 760 840 830"/>
<path class="s ns" d="M898 667 Q943 722 908 792"/>
<path class="s ns" d="M966 629 Q1011 684 976 754"/>
<path class="s ns" d="M1034 591 Q1079 646 1044 716"/>
<path class="s ns" d="M1102 553 Q1147 608 1112 678"/>
<path class="s ns" d="M1170 515 Q1215 570 1180 640"/>
<path class="w ns" d="M1345 335 L1490 230 A150 90 62 0 1 1540 515 L1420 520 Z"/>
<ellipse class="w ns" cx="1540" cy="370" rx="160" ry="85" transform="rotate(62 1540 370)"/>
<path class="s ns" d="M1440 300 Q1510 370 1470 500" style="stroke-width:2"/>
</g>
<path class="d" d="M1096.6 741 L1119.7 728.4"/>
<text class="b" x="134.5" y="92.8" font-size="26.3">VALVE BLOCK / VENTILBLOCK</text>
<text class="b" x="937" y="92.8" font-size="26">3217 9581 50</text>
<text x="1485" y="986" font-size="22.2">1250 0099 78</text>
<text x="134" y="1333.5" font-size="23" transform="translate(134 0) scale(1.06 1) translate(-134 0)">B0011243</text>
<text x="974" y="1334" font-size="24.5">1194</text>
<text class="b" x="58" y="1359.3" font-size="61" transform="translate(58 0) scale(0.9366 1) translate(-58 0)">by AtlasCopco</text>
<g class="lab">
<text x="620" y="583.9">115</text>
<text x="620" y="629.6">119</text>
<text x="620.5" y="740.5">116</text>
<text x="1049.5" y="332.2">114</text>
<text x="1047.5" y="395.4">113</text>
<text x="1046" y="450.2">112</text>
<text x="1047.5" y="509.5">111</text>
<text x="1283" y="213.2">103</text>
<text x="1056.5" y="884.2">130</text>
<text x="1558" y="177.5">109</text>
<text x="1558" y="264">107</text>
<text x="1554.5" y="345.6">106</text>
<text x="1553" y="424.9">113</text>
<text x="1553" y="491.4">108</text>
<text x="1555.5" y="549.9">103</text>
<text x="1592.5" y="616.9">104</text>
<text x="1592.5" y="650.3">105</text>
<text x="1592.5" y="681.4">102</text>
</g>
<path class="l" d="M660.3 575.1 L783 587"/>
<path class="l" d="M660.3 621.8 L719.5 620.3"/>
<path class="l" d="M660.4 732.4 L738.1 727.4"/>
<path class="l" d="M1091.7 323.4 L1138 309.3"/>
<path class="l" d="M1089.5 387 L1183.9 387"/>
<path class="l" d="M1089.5 446.9 L1175.7 453.5"/>
<path class="l" d="M1090.6 505.3 L1159.6 517.2"/>
<path class="l" d="M1217.6 235.2 L1282.9 207.5"/>
<path class="l" d="M1058.4 809 L1074 858.2"/>
<path class="l" d="M1511.6 179.4 L1553.7 171.5"/>
<path class="l" d="M1513.4 265 L1553.7 258.3"/>
<path class="l" d="M1513.4 338 L1553.7 337.7"/>
<path class="l" d="M1498.3 426.9 L1553.3 419.5"/>
<path class="l" d="M1500.4 496.4 L1553.3 486"/>
<path class="l" d="M1491.5 565.5 L1556 543.4"/>
<path class="l" d="M1563.3 597.1 L1582.3 603.6"/>
<path class="l" d="M1535.6 616.4 L1585.9 638.4"/>
<path class="l" d="M1505 653.1 L1586.8 671.4"/>
<rect x="1025.9" y="191.6" width="34.2" height="34.2" fill="none" stroke="#000" stroke-width="3.7"/>
<text x="1034" y="218.9" font-size="27">A</text>
<path d="M671.8 217.8 L726.3 183.4 L734 198.3 Z" fill="#000"/>
<text x="737" y="193.9" font-size="24.5">A</text>
</svg>
</body></html>
